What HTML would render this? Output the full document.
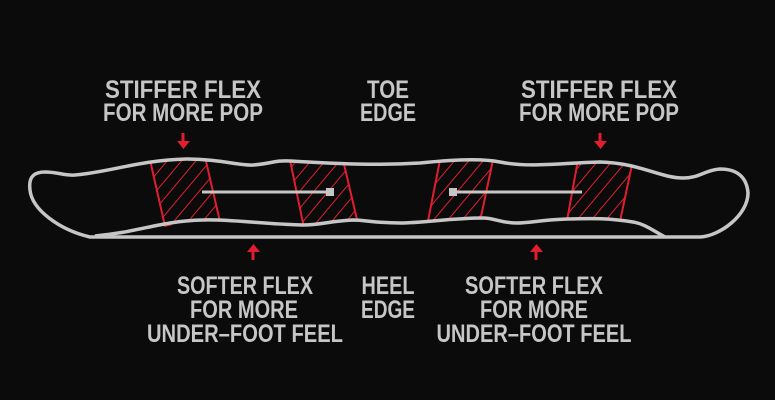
<!DOCTYPE html>
<html><head><style>
html,body{margin:0;padding:0;background:#0b0b0b;}
svg{display:block}
text{font-family:"Liberation Sans Narrow","Liberation Sans",sans-serif;font-weight:bold;fill:#c6c6c6;font-size:25px;}
</style></head><body>
<svg width="775" height="400" viewBox="0 0 775 400" xmlns="http://www.w3.org/2000/svg">
<defs>
<pattern id="h" patternUnits="userSpaceOnUse" width="11" height="11" patternTransform="rotate(40)">
<line x1="0" y1="0" x2="0" y2="11" stroke="#e01e2f" stroke-width="2"/>
</pattern>
<clipPath id="c">
<path d="M30,190 C28,175 36,172 45,172 C58,172 65,176 75,175 C110,172 140,160 187,159 C220,159 240,166 253,165 C270,164 275,160 290,161 C330,163 370,166 420,163 C450,160 480,158 500,162 C530,168 560,163 600,162 C640,163 660,178 683,178 C700,178 705,170 720,169 C740,169 747,180 748,193 C748,215 720,236 700,237 L660,237 C645,226 640,222 633,222 C600,217 585,219 567,219 C540,220 530,223 517,223 C500,223 495,218 483,218 C450,218 425,223 400,223 C375,223 365,220 353,220 C330,221 320,225 303,225 C260,224 230,219 203,220 C180,221 160,230 120,236 L90,236 C60,230 32,210 30,190 Z"/>
</clipPath>
</defs>
<rect width="775" height="400" fill="#0b0b0b"/>
<g clip-path="url(#c)" stroke="#e01e2f" stroke-width="2">
<path d="M150,160 L205,157 L221,226 L165,226 Z" fill="url(#h)"/>
<path d="M290,160 L343,160 L359,228 L304,228 Z" fill="url(#h)"/>
<path d="M440,160 L493,160 L479,226 L427,226 Z" fill="url(#h)"/>
<path d="M578,160 L633,160 L619,226 L566,226 Z" fill="url(#h)"/>
</g>
<path d="M30,190 C28,175 36,172 45,172 C58,172 65,176 75,175 C110,172 140,160 187,159 C220,159 240,166 253,165 C270,164 275,160 290,161 C330,163 370,166 420,163 C450,160 480,158 500,162 C530,168 560,163 600,162 C640,163 660,178 683,178 C700,178 705,170 720,169 C740,169 747,180 748,193 C748,215 720,236 700,237 L90,237 C60,230 32,210 30,190 Z" fill="none" stroke="#c6c6c6" stroke-width="3.5"/>
<path d="M95,236 C140,232 160,221 203,220 C230,219 260,224 303,225 C320,225 330,221 353,220 C365,220 375,223 400,223 C425,223 450,218 483,218 C495,218 500,223 517,223 C530,223 540,220 567,219 C585,219 600,217 633,222 C645,224 652,230 665,237" fill="none" stroke="#c6c6c6" stroke-width="3.5"/>
<line x1="202" y1="192" x2="328" y2="192" stroke="#c6c6c6" stroke-width="3"/>
<rect x="326" y="188" width="8" height="8" fill="#c6c6c6"/>
<line x1="452" y1="192" x2="582" y2="192" stroke="#c6c6c6" stroke-width="3"/>
<rect x="449" y="188" width="8" height="8" fill="#c6c6c6"/>
<g fill="#e01e2f">
<rect x="181.5" y="133" width="3" height="9"/><polygon points="177,141 190,141 183.5,149"/>
<rect x="598.5" y="133" width="3" height="9"/><polygon points="594,141 607,141 600.5,149"/>
<rect x="251.5" y="251" width="3" height="9"/><polygon points="247,252 260,252 253.5,244"/>
<rect x="534.5" y="251" width="3" height="9"/><polygon points="530,252 543,252 536.5,244"/>
</g>
<g text-anchor="middle">
<text x="183" y="98" textLength="156" lengthAdjust="spacingAndGlyphs">STIFFER FLEX</text>
<text x="183" y="121" textLength="160" lengthAdjust="spacingAndGlyphs">FOR MORE POP</text>
<text x="388" y="98" textLength="42" lengthAdjust="spacingAndGlyphs">TOE</text>
<text x="388" y="121" textLength="56" lengthAdjust="spacingAndGlyphs">EDGE</text>
<text x="599" y="98" textLength="156" lengthAdjust="spacingAndGlyphs">STIFFER FLEX</text>
<text x="599" y="121" textLength="160" lengthAdjust="spacingAndGlyphs">FOR MORE POP</text>
<text x="245" y="294" textLength="136" lengthAdjust="spacingAndGlyphs">SOFTER FLEX</text>
<text x="244" y="318" textLength="108" lengthAdjust="spacingAndGlyphs">FOR MORE</text>
<text x="245" y="342" textLength="196" lengthAdjust="spacingAndGlyphs">UNDER–FOOT FEEL</text>
<text x="388" y="294" textLength="53" lengthAdjust="spacingAndGlyphs">HEEL</text>
<text x="388" y="318" textLength="54" lengthAdjust="spacingAndGlyphs">EDGE</text>
<text x="534" y="294" textLength="138" lengthAdjust="spacingAndGlyphs">SOFTER FLEX</text>
<text x="534" y="318" textLength="108" lengthAdjust="spacingAndGlyphs">FOR MORE</text>
<text x="534" y="342" textLength="195" lengthAdjust="spacingAndGlyphs">UNDER–FOOT FEEL</text>
</g>
</svg>
</body></html>
